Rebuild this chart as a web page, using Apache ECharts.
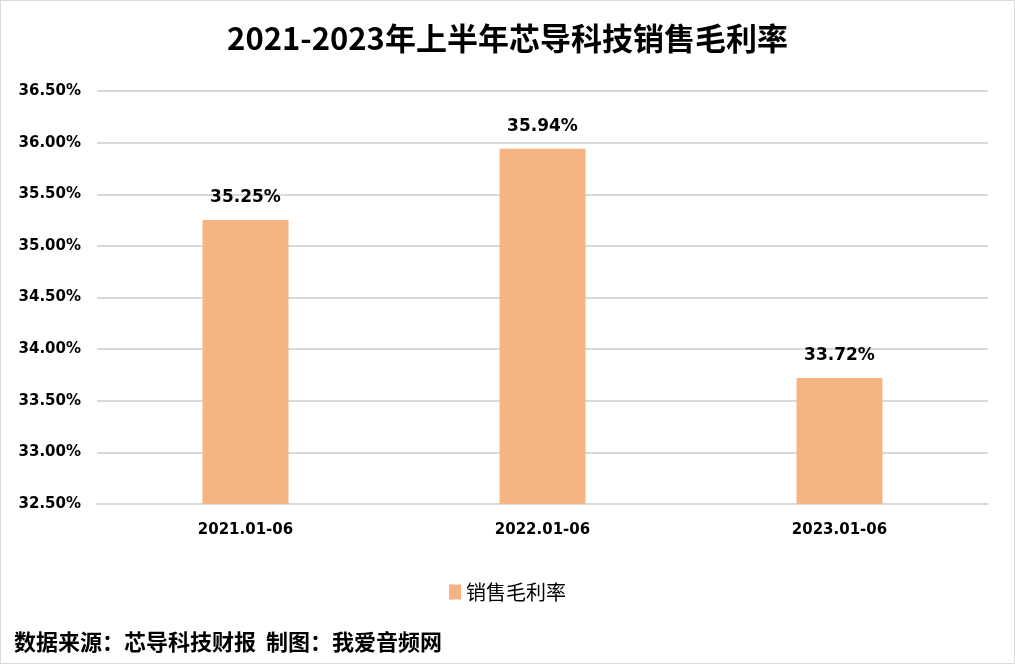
<!DOCTYPE html>
<html>
<head>
<meta charset="utf-8">
<script src="https://cdn.jsdelivr.net/npm/echarts@6/dist/echarts.min.js"></script>
<style>
html, body { margin: 0; padding: 0; background: #fff; }
#chart { width: 1013px; height: 662px; border: 1px solid #d9d9d9; }
</style>
</head>
<body>
<div id="chart"></div>
<script>
var categories = ['2021.01-06', '2022.01-06', '2023.01-06'];
var grossMargin = [35.25, 35.94, 33.72]; // 销售毛利率 (%)
var seriesName = '销售毛利率';

var myChart = echarts.init(document.getElementById('chart'));

var cjk = '"Noto Sans CJK SC", sans-serif';
var latin = '"DejaVu Sans", sans-serif';

var option = {
	animation: false,
	title: {
		text: '2021-2023年上半年芯导科技销售毛利率',
		left: 'center',
		top: 17,
		textStyle: {
			fontFamily: cjk,
			fontSize: 31,
			fontWeight: 'bold',
			color: '#000'
		}
	},
	legend: {
		bottom: 56,
		left: 'center',
		itemWidth: 12,
		itemHeight: 15,
		itemGap: 8,
		icon: 'rect',
		textStyle: {
			fontFamily: cjk,
			fontSize: 20,
			color: '#000'
		},
		data: [seriesName]
	},
	graphic: [{
		type: 'text',
		left: 13,
		bottom: 10,
		style: {
			text: '数据来源：芯导科技财报  制图：我爱音频网',
			font: 'bold 22px "Noto Sans CJK SC", sans-serif',
			fill: '#000'
		}
	}],
	grid: {
		left: 96,
		right: 26,
		top: 90,
		bottom: 159
	},
	xAxis: {
		type: 'category',
		data: categories,
		axisLine: { lineStyle: { color: '#d9d9d9', width: 2 } },
		axisTick: { show: false },
		axisLabel: {
			margin: 19,
			fontFamily: latin,
			fontSize: 15,
			fontWeight: 'bold',
			color: '#000'
		}
	},
	yAxis: {
		type: 'value',
		min: 32.5,
		max: 36.5,
		interval: 0.5,
		axisLine: { show: false },
		axisTick: { show: false },
		splitLine: { lineStyle: { color: '#d9d9d9', width: 2 } },
		axisLabel: {
			margin: 16,
			fontFamily: latin,
			fontSize: 15,
			fontWeight: 'bold',
			color: '#000',
			formatter: function(v) { return v.toFixed(2) + '%'; }
		}
	},
	series: [{
		name: seriesName,
		type: 'bar',
		data: grossMargin,
		barWidth: 86,
		itemStyle: { color: '#f5b482' },
		label: {
			show: true,
			position: 'top',
			distance: 14,
			fontFamily: latin,
			fontSize: 17,
			fontWeight: 'bold',
			color: '#000',
			formatter: function(p) { return p.value.toFixed(2) + '%'; }
		}
	}]
};

myChart.setOption(option, true);
window.onresize = function() {
	myChart.resize();
};
</script>
</body>
</html>
